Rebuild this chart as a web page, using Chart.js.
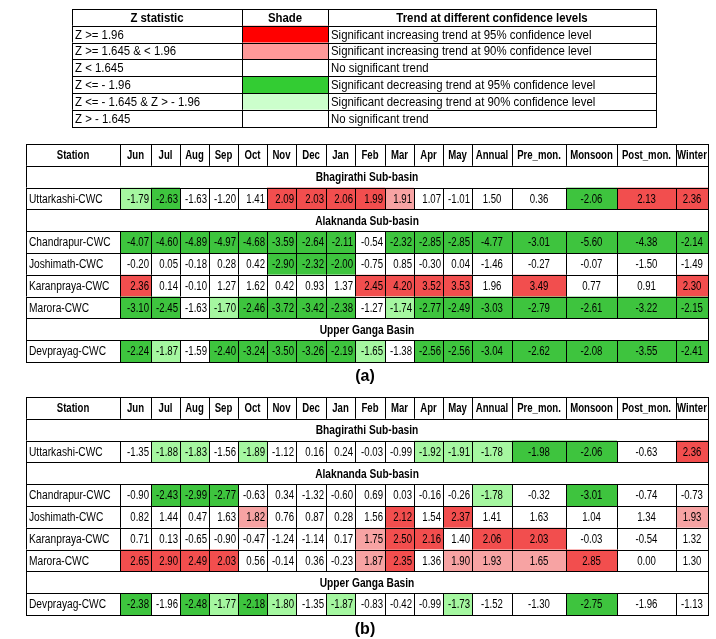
<!DOCTYPE html>
<html>
<head>
<meta charset="utf-8">
<script src="https://cdn.jsdelivr.net/npm/chart.js@4.4.0/dist/chart.umd.min.js"></script>
<style>
  html, body { margin: 0; padding: 0; background: #fff; }
  canvas { display: block; }
</style>
</head>
<body>
<canvas id="chartCanvas" width="716" height="639"></canvas>
<script>
// Legend table
const legendZ = ["Z >= 1.96", "Z >= 1.645 & < 1.96", "Z < 1.645", "Z <= - 1.96", "Z <= - 1.645 & Z > - 1.96", "Z > - 1.645"];
const legendShade = ["R", "r", ".", "G", "g", "."];
const legendTrend = [
  "Significant increasing trend at 95% confidence level",
  "Significant increasing trend at 90% confidence level",
  "No significant trend",
  "Significant decreasing trend at 95% confidence level",
  "Significant decreasing trend at 90% confidence level",
  "No significant trend"
];

// Main tables
const columns = ["Station", "Jun", "Jul", "Aug", "Sep", "Oct", "Nov", "Dec", "Jan", "Feb", "Mar", "Apr", "May",
  "Annual", "Pre_mon.", "Monsoon", "Post_mon.", "Winter"];
const basins = ["Bhagirathi Sub-basin", "Alaknanda Sub-basin", "Upper Ganga Basin"];
const stations = ["Uttarkashi-CWC", "Chandrapur-CWC", "Joshimath-CWC", "Karanpraya-CWC", "Marora-CWC", "Devprayag-CWC"];
const stationBasin = [0, 1, 1, 1, 1, 2];

const valuesA = [
  [-1.79, -2.63, -1.63, -1.20, 1.41, 2.09, 2.03, 2.06, 1.99, 1.91, 1.07, -1.01, 1.50, 0.36, -2.06, 2.13, 2.36],
  [-4.07, -4.60, -4.89, -4.97, -4.68, -3.59, -2.64, -2.11, -0.54, -2.32, -2.85, -2.85, -4.77, -3.01, -5.60, -4.38, -2.14],
  [-0.20, 0.05, -0.18, 0.28, 0.42, -2.90, -2.32, -2.00, -0.75, 0.85, -0.30, 0.04, -1.46, -0.27, -0.07, -1.50, -1.49],
  [2.36, 0.14, -0.10, 1.27, 1.62, 0.42, 0.93, 1.37, 2.45, 4.20, 3.52, 3.53, 1.96, 3.49, 0.77, 0.91, 2.30],
  [-3.10, -2.45, -1.63, -1.70, -2.46, -3.72, -3.42, -2.38, -1.27, -1.74, -2.77, -2.49, -3.03, -2.79, -2.61, -3.22, -2.15],
  [-2.24, -1.87, -1.59, -2.40, -3.24, -3.50, -3.26, -2.19, -1.65, -1.38, -2.56, -2.56, -3.04, -2.62, -2.08, -3.55, -2.41]
];
const shadesA = [
  "gG...RRRRr....GRR",
  "GGGGGGGG.GGGGGGGG",
  ".....GGG.........",
  "R.......RRRR.R..R",
  "GG.gGGGG.gGGGGGGG",
  "Gg.GGGGGg.GGGGGGG"
];
const valuesB = [
  [-1.35, -1.88, -1.83, -1.56, -1.89, -1.12, 0.16, 0.24, -0.03, -0.99, -1.92, -1.91, -1.78, -1.98, -2.06, -0.63, 2.36],
  [-0.90, -2.43, -2.99, -2.77, -0.63, 0.34, -1.32, -0.60, 0.69, 0.03, -0.16, -0.26, -1.78, -0.32, -3.01, -0.74, -0.73],
  [0.82, 1.44, 0.47, 1.63, 1.82, 0.76, 0.87, 0.28, 1.56, 2.12, 1.54, 2.37, 1.41, 1.63, 1.04, 1.34, 1.93],
  [0.71, 0.13, -0.65, -0.90, -0.47, -1.24, -1.14, 0.17, 1.75, 2.50, 2.16, 1.40, 2.06, 2.03, -0.03, -0.54, 1.32],
  [2.65, 2.90, 2.49, 2.03, 0.56, -0.14, 0.36, -0.23, 1.87, 2.35, 1.36, 1.90, 1.93, 1.65, 2.85, 0.00, 1.30],
  [-2.38, -1.96, -2.48, -1.77, -2.18, -1.80, -1.35, -1.87, -0.83, -0.42, -0.99, -1.73, -1.52, -1.30, -2.75, -1.96, -1.13]
];
const shadesB = [
  ".gg.g.....gggGG.R",
  ".GGG........g.G..",
  "....r....R.R....r",
  "........rRR.RR...",
  "RRRR....rR.rrrR..",
  "G.GgGg.g...g..G.."
];

const tableColors = { R: "#f24e4e", r: "#f7a3a3", G: "#3ec43e", g: "#a5f7a0", ".": "#ffffff" };
const legendColors = { R: "#ff0000", r: "#ff9999", G: "#33cc33", g: "#ccffcc", ".": "#ffffff" };

// column edges in page units (px)
const colEdges = [26, 120, 151, 180, 209, 238, 267, 296, 326, 355, 385, 414, 443, 472, 512, 566, 617, 676, 708];
const FONT = "'Liberation Sans', Arial, sans-serif";

function drawTablePlugin() {
  return {
    id: "tables",
    afterDraw(chart) {
      const ctx = chart.ctx;
      const X = v => chart.scales.x.getPixelForValue(v);
      const Y = v => chart.scales.y.getPixelForValue(v);

      // narrow text, like the condensed font in the original
      function text(str, x, y, align, font, squeeze) {
        ctx.save();
        ctx.fillStyle = "#000";
        ctx.font = font;
        ctx.textBaseline = "middle";
        ctx.textAlign = align;
        ctx.translate(x, y);
        ctx.scale(squeeze, 1);
        ctx.fillText(str, 0, 0);
        ctx.restore();
      }

      function cell(x0, y0, x1, y1, fill, str, bold, align, squeeze) {
        const px0 = X(x0), px1 = X(x1), py0 = Y(y0), py1 = Y(y1);
        ctx.fillStyle = fill;
        ctx.fillRect(px0, py0, px1 - px0, py1 - py0);
        ctx.strokeStyle = "#000";
        ctx.lineWidth = 1;
        ctx.strokeRect(Math.round(px0) + 0.5, Math.round(py0) + 0.5, Math.round(px1 - px0), Math.round(py1 - py0));
        if (str !== "") {
          const a = align || "center";
          const tx = a === "left" ? px0 + 3 : a === "right" ? px1 - 2 : (px0 + px1) / 2;
          text(str, tx, (py0 + py1) / 2 + 1, a, (bold ? "bold " : "") + "12px " + FONT, squeeze || 1);
        }
      }

      // legend
      const lx = [72, 242, 328, 656];
      const lh = 16.8;
      let y = 9;
      cell(lx[0], y, lx[1], y + lh, "#fff", "Z statistic", true, "center", 0.95);
      cell(lx[1], y, lx[2], y + lh, "#fff", "Shade", true, "center", 0.95);
      cell(lx[2], y, lx[3], y + lh, "#fff", "Trend at different confidence levels", true, "center", 0.95);
      legendZ.forEach((z, i) => {
        y += lh;
        cell(lx[0], y, lx[1], y + lh, "#fff", z, false, "left", 0.95);
        cell(lx[1], y, lx[2], y + lh, legendColors[legendShade[i]], "");
        cell(lx[2], y, lx[3], y + lh, "#fff", legendTrend[i], false, "left", 0.95);
      });

      function table(top, values, shades, label) {
        const rh = 21.8;
        let y = top;
        columns.forEach((c, j) => cell(colEdges[j], y, colEdges[j + 1], y + rh, "#fff", c, true, "center", 0.8));
        y += rh;
        let lastBasin = -1;
        stations.forEach((s, i) => {
          if (stationBasin[i] !== lastBasin) {
            lastBasin = stationBasin[i];
            cell(colEdges[0], y, colEdges[colEdges.length - 1], y + rh, "#fff", basins[lastBasin], true, "center", 0.85);
            y += rh;
          }
          cell(colEdges[0], y, colEdges[1], y + rh, "#fff", s, false, "left", 0.85);
          values[i].forEach((v, j) => {
            cell(colEdges[j + 1], y, colEdges[j + 2], y + rh, tableColors[shades[i][j]], v.toFixed(2), false,
              j < 12 ? "right" : "center", 0.8);
          });
          y += rh;
        });
        text(label, X(365), Y(y + 15), "center", "bold 16px " + FONT, 1);
      }
      table(144, valuesA, shadesA, "(a)");
      table(397, valuesB, shadesB, "(b)");
    }
  };
}

new Chart(document.getElementById("chartCanvas").getContext("2d"), {
  type: "scatter",
  data: { datasets: [{ data: [], pointRadius: 0 }] },
  options: {
    responsive: false,
    animation: false,
    layout: { padding: 0 },
    plugins: { legend: { display: false }, tooltip: { enabled: false } },
    scales: {
      x: { type: "linear", min: 0, max: 716, display: false },
      y: { type: "linear", min: 0, max: 639, reverse: true, display: false }
    }
  },
  plugins: [drawTablePlugin()]
});
</script>
</body>
</html>
